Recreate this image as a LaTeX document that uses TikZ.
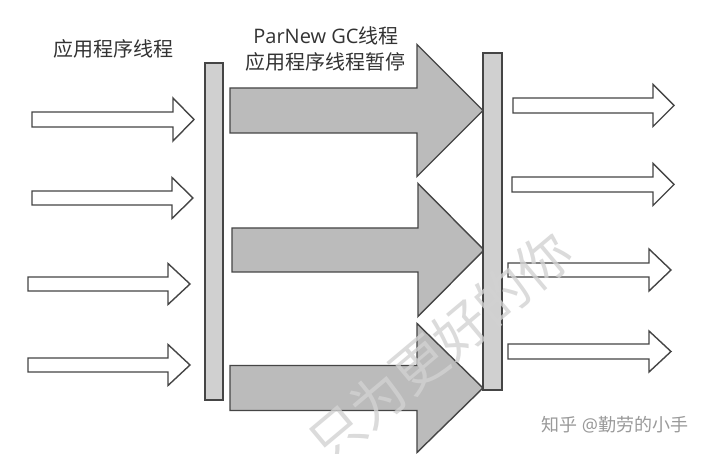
\documentclass[tikz,border=0pt]{standalone}
\usepackage{fontspec}
\setmainfont{Open Sans}
\newfontfamily\cjk{Noto Sans CJK SC}
\definecolor{fatfill}{HTML}{BBBBBB}
\definecolor{barfill}{HTML}{D0D0D0}
\definecolor{edgecol}{HTML}{454545}
\definecolor{txtcol}{HTML}{333333}
\definecolor{markcol}{HTML}{9A9A9A}
\definecolor{wmcol}{HTML}{D2D2D2}
% #1 style, #2 left x, #3 centre y, #4 head base x, #5 tip x, #6 shaft half height, #7 head half height
\newcommand\myblockarrow[7]{%
  \draw[#1] (#2,#3-#6) -- (#4,#3-#6) -- (#4,#3-#7) -- (#5,#3) -- (#4,#3+#7) -- (#4,#3+#6) -- (#2,#3+#6) -- cycle;}
\tikzset{
  thinarrow/.style={draw=edgecol, fill=white, line width=1.4pt, line join=miter},
  fatarrow/.style={draw=edgecol, fill=fatfill, line width=1.4pt, line join=miter},
  barbox/.style={draw=edgecol, fill=barfill, line width=1.4pt},
  label/.style={inner sep=0pt, text=txtcol, font=\fontsize{20}{24}\selectfont},
}
\begin{document}
\begin{tikzpicture}[x=1pt,y=-1pt]
\useasboundingbox[fill=white] (0,0) rectangle (720,454);
% left thin arrows
\myblockarrow{thinarrow}{32}{119.5}{173}{194}{7.5}{21.5}
\myblockarrow{thinarrow}{32}{198}{172}{193}{7}{20.5}
\myblockarrow{thinarrow}{28}{284}{168}{190}{7}{20.5}
\myblockarrow{thinarrow}{28}{365}{168}{190}{7}{20.5}
% fat arrows
\myblockarrow{fatarrow}{230}{110.5}{417}{483}{22.5}{66}
\myblockarrow{fatarrow}{232}{250}{418}{484}{22}{66.5}
\myblockarrow{fatarrow}{230}{388}{417}{483}{22.5}{64.5}
% bars
\draw[barbox] (205,63) rectangle (223,400);
\draw[barbox] (483,53) rectangle (502,390);
% right thin arrows
\myblockarrow{thinarrow}{513}{105.5}{653}{674}{7.5}{21}
\myblockarrow{thinarrow}{512}{184.5}{653}{674}{7.5}{21}
\myblockarrow{thinarrow}{508}{270}{649}{671}{7}{21}
\myblockarrow{thinarrow}{508}{351.5}{649}{671}{7.5}{20.5}
% labels
\node[label] (app) at (113,49) {\cjk 应用程序线程};
\node[label] (gc) at (326,36) {ParNew GC\cjk 线程};
\node[label] (pause) at (325,62) {\cjk 应用程序线程暂停};
\node[inner sep=0pt, text=markcol, font=\fontsize{18}{22}\selectfont] (zh) at (615,425) {\cjk 知乎 \normalfont@\cjk 勤劳的小手};
% faint diagonal watermark, over everything
\node[rotate=40, text=wmcol, text opacity=0.8, inner sep=0pt, font=\cjk\fontsize{54}{60}\selectfont] (wm) at (440,347) {只为更好的你};
\end{tikzpicture}
\end{document}
